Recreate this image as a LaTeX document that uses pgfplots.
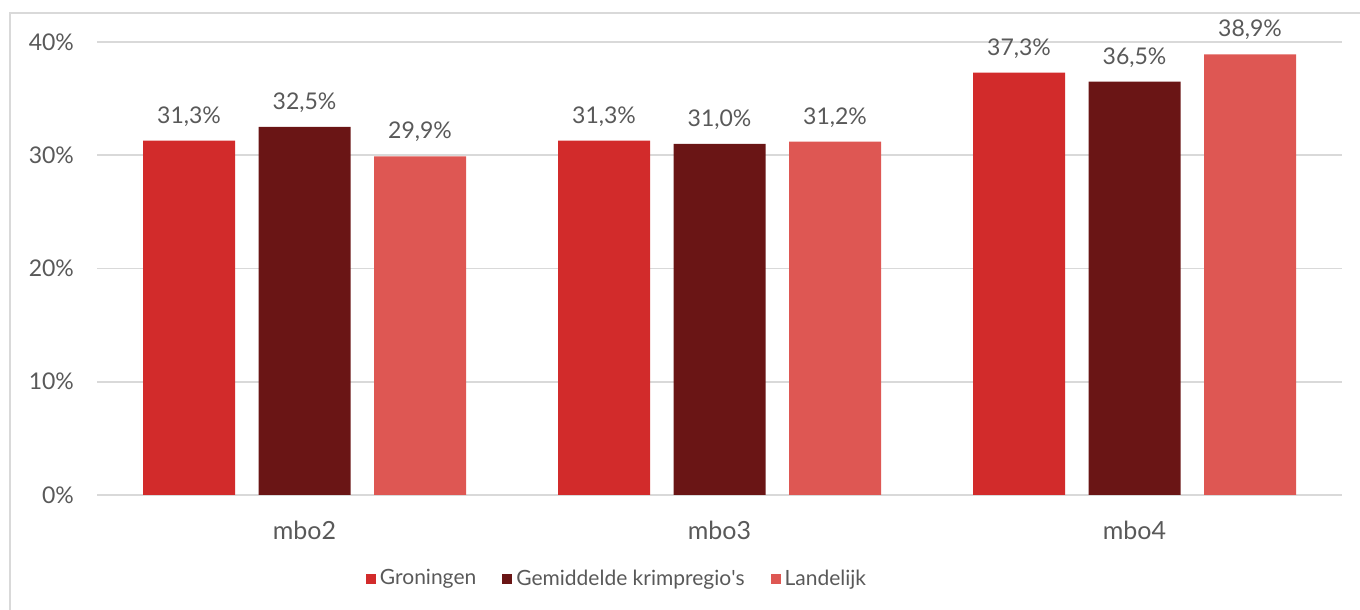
\documentclass[border=0pt]{standalone}
\usepackage{pgfplots}
\pgfplotsset{compat=1.18}
\usepackage{fontspec}
\setmainfont{Lato}
\definecolor{cA}{HTML}{D22B2B}
\definecolor{cB}{HTML}{6A1515}
\definecolor{cC}{HTML}{DE5753}
\definecolor{txt}{HTML}{595959}
\definecolor{grd}{HTML}{D9D9D9}
\begin{document}
\begin{tikzpicture}
\path[use as bounding box] (0pt,0pt) rectangle (680pt,305pt);
\draw[grd, line width=1pt] (5pt,-5pt) -- (5pt,298.5pt) -- (690pt,298.5pt);
\begin{axis}[
  at={(48.5pt,57.5pt)}, anchor=south west,
  scale only axis, width=622.5pt, height=226.5pt,
  xmin=-0.5, xmax=2.5, ymin=0, ymax=40,
  ybar=11.75pt, bar width=46pt,
  xtick={0,1,2}, xticklabels={mbo2,mbo3,mbo4},
  ytick={0,10,20,30,40},
  yticklabel={\pgfmathprintnumber{\tick}\%},
  /pgf/number format/assume math mode=true,
  ymajorgrids, grid style={grd, line width=0.9pt},
  axis line style={draw=none}, tick style={draw=none},
  tick label style={font=\fontsize{11.5}{13}\selectfont, text=txt},
  yticklabel style={xshift=-8pt},
  xticklabel style={yshift=-5pt, font=\fontsize{12.5}{14}\selectfont},
  nodes near coords={\pgfmathprintnumber[fixed,fixed zerofill,precision=1,use comma]{\pgfplotspointmeta}\%},
  every node near coord/.append style={font=\fontsize{11.5}{13}\selectfont, text=txt, inner sep=0pt, anchor=south, yshift=7pt},
  clip=false,
  legend style={at={(0.4185,-0.185)}, anchor=center, draw=none, fill=none,
    font=\fontsize{10.5}{12}\selectfont, text=txt, /tikz/every even column/.append style={column sep=11pt}},
  legend columns=3,
  legend image code/.code={\fill[#1] (0pt,-2.5pt) rectangle (5pt,2.5pt);},
  legend cell align=left,
]
\addplot[fill=cA, draw=none] coordinates {(0,31.3) (1,31.3) (2,37.3)};
\addplot[fill=cB, draw=none] coordinates {(0,32.5) (1,31.0) (2,36.5)};
\addplot[fill=cC, draw=none] coordinates {(0,29.9) (1,31.2) (2,38.9)};
\legend{Groningen,Gemiddelde krimpregio\textquotesingle s,Landelijk}
\end{axis}
\end{tikzpicture}
\end{document}
